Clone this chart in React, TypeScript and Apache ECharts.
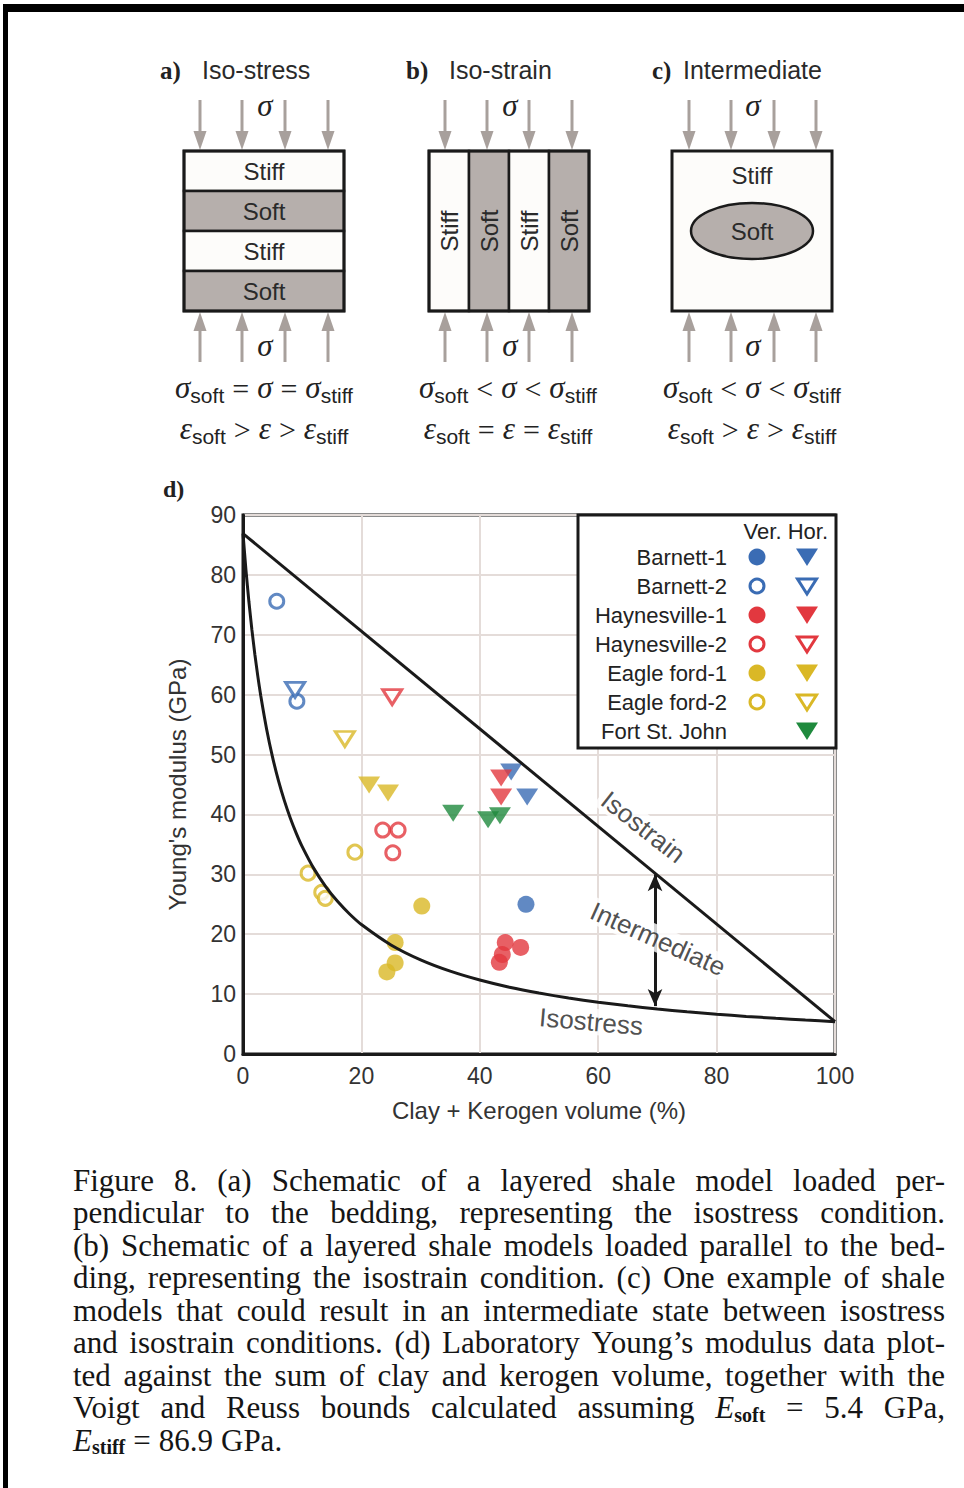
import React, { useEffect, useRef } from 'react';
import * as echarts from 'echarts';

// ---------- data ----------
const X_MIN = 0, X_MAX = 100, X_STEP = 20;
const Y_MIN = 0, Y_MAX = 90, Y_STEP = 10;

const VOIGT = [[0, 86.9], [100, 5.4]];
const REUSS_X = [0, 0.5, 1, 1.5, 2, 2.5, 3, 4, 5, 6, 7, 8, 9, 10, 12, 14, 16, 18, 20, 25, 30, 35, 40, 45, 50, 55, 60, 65, 70, 75, 80, 85, 90, 95, 100];
const REUSS_Y = [86.9, 80.81, 75.51, 70.86, 66.75, 63.1, 59.82, 54.19, 49.53, 45.6, 42.26, 39.37, 36.85, 34.63, 30.91, 27.92, 25.45, 23.38, 21.62, 18.21, 15.72, 13.83, 12.35, 11.15, 10.17, 9.34, 8.64, 8.04, 7.51, 7.05, 6.65, 6.28, 5.96, 5.67, 5.4];

const barnett1Ver = [[47.8, 25.0]];
const barnett1Hor = [[45.3, 47.1], [48.0, 42.9]];
const barnett2Ver = [[5.7, 75.6], [9.1, 58.9]];
const barnett2Hor = [[8.8, 60.8]];
const haynes1Ver = [[44.3, 18.6], [46.9, 17.8], [43.8, 16.6], [43.3, 15.3]];
const haynes1Hor = [[43.6, 46.1], [43.6, 42.9]];
const haynes2Ver = [[23.6, 37.4], [26.2, 37.4], [25.3, 33.6]];
const haynes2Hor = [[25.2, 59.6]];
const eagle1Ver = [[30.2, 24.7], [25.7, 18.6], [25.7, 15.2], [24.3, 13.7]];
const eagle1Hor = [[21.3, 44.9], [24.5, 43.6]];
const eagle2Ver = [[18.9, 33.7], [11.0, 30.2], [13.3, 27.0], [13.9, 26.0]];
const eagle2Hor = [[17.2, 52.6]];
const fortHor = [[35.5, 40.2], [41.4, 39.1], [43.4, 39.8]];

const LEGEND_NAMES = ['Barnett-1', 'Barnett-2', 'Haynesville-1', 'Haynesville-2', 'Eagle ford-1', 'Eagle ford-2', 'Fort St. John'];

const ANNOT = [
  { name: 'Isostrain', value: [67.6, 37.9], rotate: -38 },
  { name: 'Intermediate', value: [70.1, 19.2], rotate: -24 },
  { name: 'Isostress', value: [58.8, 5.4], rotate: -5 },
];
const ARROW_X = 69.6, ARROW_TOP = 30.0, ARROW_BOTTOM = 8.0;

const CAPTION = [
  'Figure 8. (a) Schematic of a layered shale model loaded per-',
  'pendicular to the bedding, representing the isostress condition.',
  '(b) Schematic of a layered shale models loaded parallel to the bed-',
  'ding, representing the isostrain condition. (c) One example of shale',
  'models that could result in an intermediate state between isostress',
  'and isostrain conditions. (d) Laboratory Young\u2019s modulus data plot-',
  'ted against the sum of clay and kerogen volume, together with the',
  'Voigt and Reuss bounds calculated assuming E_soft = 5.4 GPa,',
  'E_stiff = 86.9 GPa.',
];

// ---------- styles ----------
const BLUE = '#3a6cb4';
const RED = '#e2383f';
const YELLOW = '#dab826';
const GREEN = '#1f8a3d';
const GRAY_FILL = '#b6afac';
const ARROW_GRAY = '#a8a09c';
const INK = '#1a1a1a';
const SANS = 'Liberation Sans';
const SERIF = 'Liberation Serif';

let _ctx: CanvasRenderingContext2D | null = null;
function measure(text: string, font: string) {
  if (!_ctx) _ctx = document.createElement('canvas').getContext('2d');
  _ctx!.font = font;
  return _ctx!.measureText(text).width;
}

type Piece = { t: string; size: number; family: string; italic?: boolean; bold?: boolean; dy?: number; pl?: number; pr?: number; color?: string };
const fontStr = (p: Piece) => `${p.italic ? 'italic ' : ''}${p.bold ? 'bold ' : ''}${p.size}px "${p.family}"`;
const pieceW = (p: Piece) => measure(p.t, fontStr(p)) + (p.pl || 0) + (p.pr || 0);

function pieceEl(p: Piece, x: number, y: number, scale = 1): any {
  return {
    type: 'text', x: x + (p.pl || 0) * scale, y: y + (p.dy || 0), scaleX: scale, z: 60,
    style: {
      text: p.t, fontSize: p.size, fontFamily: p.family,
      fontStyle: p.italic ? 'italic' : 'normal', fontWeight: p.bold ? 'bold' : 'normal',
      fill: p.color || '#222', align: 'left', verticalAlign: 'middle',
    },
  };
}

function layoutPieces(pieces: Piece[], x: number, y: number, align: 'left' | 'center', scale = 1) {
  const widths = pieces.map((p) => pieceW(p) * scale);
  const total = widths.reduce((a, b) => a + b, 0);
  let cx = align === 'center' ? x - total / 2 : x;
  const els: any[] = [];
  pieces.forEach((p, i) => { els.push(pieceEl(p, cx, y, scale)); cx += widths[i]; });
  return els;
}

const G = (t: string): Piece => ({ t, size: 31, family: SERIF, italic: true });
const SB = (t: string): Piece => ({ t, size: 21, family: SANS, dy: 8 });
const OP = (t: string): Piece => ({ t, size: 30, family: SERIF, pl: 8, pr: 8, dy: 1 });

function eqRow(a: string, op1: string, op2: string) {
  return [G(a), SB('soft'), OP(op1), G(a), OP(op2), G(a), SB('stiff')];
}

function arrowsEls(xs: number[]) {
  const els: any[] = [];
  xs.forEach((x) => {
    els.push({ type: 'line', shape: { x1: x, y1: 100, x2: x, y2: 134 }, style: { stroke: ARROW_GRAY, lineWidth: 3 }, z: 55 });
    els.push({ type: 'polygon', shape: { points: [[x - 6.5, 131], [x + 6.5, 131], [x, 150]] }, style: { fill: ARROW_GRAY }, z: 55 });
    els.push({ type: 'line', shape: { x1: x, y1: 328, x2: x, y2: 362 }, style: { stroke: ARROW_GRAY, lineWidth: 3 }, z: 55 });
    els.push({ type: 'polygon', shape: { points: [[x - 6.5, 331], [x + 6.5, 331], [x, 312]] }, style: { fill: ARROW_GRAY }, z: 55 });
  });
  return els;
}

const boxText = (x: number, y: number, t: string, rot = 0) => ({
  type: 'text', x, y, rotation: rot, z: 62,
  style: { text: t, fontSize: 24, fontFamily: SANS, fill: '#2a2a2a', align: 'center', verticalAlign: 'middle' },
});

function title(x: number, letter: string, label: string, labelX: number) {
  return [
    { type: 'text', x, y: 70, z: 60, style: { text: letter, fontSize: 25, fontFamily: SERIF, fontWeight: 'bold', fill: '#222', align: 'left', verticalAlign: 'middle' } },
    { type: 'text', x: labelX, y: 70, z: 60, style: { text: label, fontSize: 25, fontFamily: SANS, fill: '#2a2a2a', align: 'left', verticalAlign: 'middle' } },
  ];
}

function schematics() {
  const els: any[] = [];
  // a) iso-stress
  els.push(...title(160, 'a)', 'Iso-stress', 202));
  ['Stiff', 'Soft', 'Stiff', 'Soft'].forEach((t, i) => {
    els.push({ type: 'rect', shape: { x: 184, y: 151 + i * 40, width: 160, height: 40 }, style: { fill: t === 'Soft' ? GRAY_FILL : '#fdfcfa', stroke: INK, lineWidth: 2.5 }, z: 56 });
    els.push(boxText(264, 171 + i * 40, t));
  });
  els.push({ type: 'rect', shape: { x: 184, y: 151, width: 160, height: 160 }, style: { fill: 'none', stroke: INK, lineWidth: 3 }, z: 57 });
  els.push(...arrowsEls([200, 242, 285, 328]));
  els.push(...layoutPieces([G('σ')], 265, 105, 'center'));
  els.push(...layoutPieces([G('σ')], 265, 345, 'center'));
  els.push(...layoutPieces(eqRow('σ', '=', '='), 264, 387, 'center'));
  els.push(...layoutPieces(eqRow('ε', '>', '>'), 264, 428, 'center'));

  // b) iso-strain
  els.push(...title(406, 'b)', 'Iso-strain', 449));
  ['Stiff', 'Soft', 'Stiff', 'Soft'].forEach((t, i) => {
    els.push({ type: 'rect', shape: { x: 429 + i * 40, y: 151, width: 40, height: 160 }, style: { fill: t === 'Soft' ? GRAY_FILL : '#fdfcfa', stroke: INK, lineWidth: 2.5 }, z: 56 });
    els.push(boxText(449 + i * 40, 231, t, Math.PI / 2));
  });
  els.push({ type: 'rect', shape: { x: 429, y: 151, width: 160, height: 160 }, style: { fill: 'none', stroke: INK, lineWidth: 3 }, z: 57 });
  els.push(...arrowsEls([445, 487, 529, 572]));
  els.push(...layoutPieces([G('σ')], 510, 105, 'center'));
  els.push(...layoutPieces([G('σ')], 510, 345, 'center'));
  els.push(...layoutPieces(eqRow('σ', '<', '<'), 508, 387, 'center'));
  els.push(...layoutPieces(eqRow('ε', '=', '='), 508, 428, 'center'));

  // c) intermediate
  els.push(...title(652, 'c)', 'Intermediate', 683));
  els.push({ type: 'rect', shape: { x: 672, y: 151, width: 160, height: 160 }, style: { fill: '#fdfcfa', stroke: INK, lineWidth: 3 }, z: 56 });
  els.push({ type: 'ellipse', shape: { cx: 752, cy: 231, rx: 61, ry: 28 }, style: { fill: GRAY_FILL, stroke: INK, lineWidth: 2.5 }, z: 57 });
  els.push(boxText(752, 175, 'Stiff'));
  els.push(boxText(752, 231, 'Soft'));
  els.push(...arrowsEls([689, 731, 774, 816]));
  els.push(...layoutPieces([G('σ')], 753, 105, 'center'));
  els.push(...layoutPieces([G('σ')], 753, 345, 'center'));
  els.push(...layoutPieces(eqRow('σ', '<', '<'), 752, 387, 'center'));
  els.push(...layoutPieces(eqRow('ε', '>', '>'), 752, 428, 'center'));
  return els;
}

function legendEls() {
  const els: any[] = [];
  els.push({ type: 'rect', shape: { x: 578, y: 515, width: 258, height: 233 }, style: { fill: '#fff', stroke: INK, lineWidth: 3 }, z: 70 });
  els.push({ type: 'text', x: 828, y: 531, z: 71, style: { text: 'Ver. Hor.', fontSize: 22, fontFamily: SANS, fill: '#222', align: 'right', verticalAlign: 'middle' } });
  const colors = [BLUE, BLUE, RED, RED, YELLOW, YELLOW, GREEN];
  LEGEND_NAMES.forEach((n, i) => {
    const y = 557 + i * 29;
    const c = colors[i];
    const open = i % 2 === 1 && i < 6;
    els.push({ type: 'text', x: 727, y, z: 71, style: { text: n, fontSize: 22, fontFamily: SANS, fill: '#222', align: 'right', verticalAlign: 'middle' } });
    if (i < 6) {
      els.push(open
        ? { type: 'circle', shape: { cx: 757, cy: y, r: 7 }, style: { fill: '#fff', stroke: c, lineWidth: 3 }, z: 71 }
        : { type: 'circle', shape: { cx: 757, cy: y, r: 8.5 }, style: { fill: c }, z: 71 });
    }
    els.push(open
      ? { type: 'polygon', shape: { points: [[797.5, y - 7], [816.5, y - 7], [807, y + 8]] }, style: { fill: '#fff', stroke: c, lineWidth: 3 }, z: 71 }
      : { type: 'polygon', shape: { points: [[796, y - 8.5], [818, y - 8.5], [807, y + 9]] }, style: { fill: c }, z: 71 });
  });
  return els;
}

function captionEls() {
  const els: any[] = [];
  const LEFT = 73, W = 872, SIZE = 31, BASE_SCALE = 1.0;
  CAPTION.forEach((line, li) => {
    const y = 1180 + li * 32.5;
    const words: Piece[][] = line.split(' ').map((w) => {
      if (w === 'E_soft' || w === 'E_stiff') {
        return [{ t: 'E', size: SIZE, family: SERIF, italic: true, color: '#151515' }, { t: w.slice(2), size: 20, family: SERIF, bold: true, dy: 7, color: '#151515' }];
      }
      return [{ t: w, size: SIZE, family: SERIF, color: '#151515' }];
    });
    const nat = words.map((ps) => ps.reduce((a, p) => a + pieceW(p), 0));
    const sumNat = nat.reduce((a, b) => a + b, 0);
    const last = li === CAPTION.length - 1;
    let scale = BASE_SCALE;
    let gap: number;
    if (last) {
      gap = 8;
    } else {
      const minGap = 6;
      if (sumNat * scale + minGap * (words.length - 1) > W) scale = (W - minGap * (words.length - 1)) / sumNat;
      gap = (W - sumNat * scale) / (words.length - 1);
    }
    let x = LEFT;
    words.forEach((ps, wi) => {
      els.push(...layoutPieces(ps, x, y, 'left', scale));
      x += nat[wi] * scale + gap;
    });
  });
  return els;
}

function frameEls() {
  return [
    { type: 'rect', shape: { x: 3, y: 4, width: 961, height: 8 }, style: { fill: '#000' }, z: 90 },
    { type: 'rect', shape: { x: 3, y: 4, width: 5, height: 1484 }, style: { fill: '#000' }, z: 90 },
    { type: 'text', x: 163, y: 489, z: 60, style: { text: 'd)', fontSize: 24, fontFamily: SERIF, fontWeight: 'bold', fill: '#222', align: 'left', verticalAlign: 'middle' } },
  ];
}

function scatter(name: string, data: number[][], color: string, kind: 'circle' | 'tri', open: boolean) {
  return {
    name, type: 'scatter', data, z: 2, silent: true,
    symbol: kind === 'circle' ? 'circle' : 'triangle',
    symbolRotate: kind === 'tri' ? 180 : 0,
    symbolSize: kind === 'circle' ? (open ? 14 : 17) : (open ? [19, 15] : [22, 17]),
    itemStyle: open ? { color: '#fff', borderColor: color, borderWidth: 3 } : { color, borderWidth: 0 },
  };
}

export default function App() {
  const ref = useRef<HTMLDivElement>(null);
  useEffect(() => {
    const chart = echarts.init(ref.current!, undefined, { renderer: 'svg' });
    const option: any = {
      animation: false,
      backgroundColor: '#ffffff',
      textStyle: { fontFamily: SANS },
      grid: { left: 243, top: 515, width: 592, height: 539, show: true, borderColor: INK, borderWidth: 3, backgroundColor: 'transparent', containLabel: false },
      xAxis: {
        type: 'value', min: X_MIN, max: X_MAX, interval: X_STEP,
        name: 'Clay + Kerogen volume (%)', nameLocation: 'middle', nameGap: 44,
        nameTextStyle: { fontSize: 24, color: '#333', fontFamily: SANS },
        axisLine: { show: true, onZero: false, lineStyle: { color: INK, width: 3 } },
        axisTick: { show: false },
        axisLabel: { fontSize: 23, color: '#333', margin: 10, fontFamily: SANS },
        splitLine: { show: true, lineStyle: { color: '#e4dcd9', width: 2 } },
      },
      yAxis: {
        type: 'value', min: Y_MIN, max: Y_MAX, interval: Y_STEP,
        name: 'Young\'s modulus (GPa)', nameLocation: 'middle', nameGap: 54,
        nameTextStyle: { fontSize: 24, color: '#333', fontFamily: SANS },
        axisLine: { show: true, onZero: false, lineStyle: { color: INK, width: 3 } },
        axisTick: { show: false },
        axisLabel: { fontSize: 23, color: '#333', margin: 7, fontFamily: SANS },
        splitLine: { show: true, lineStyle: { color: '#e4dcd9', width: 2 } },
      },
      series: [
        scatter('Barnett-1 Ver.', barnett1Ver, BLUE, 'circle', false),
        scatter('Barnett-1 Hor.', barnett1Hor, BLUE, 'tri', false),
        scatter('Barnett-2 Ver.', barnett2Ver, BLUE, 'circle', true),
        scatter('Barnett-2 Hor.', barnett2Hor, BLUE, 'tri', true),
        scatter('Haynesville-1 Ver.', haynes1Ver, RED, 'circle', false),
        scatter('Haynesville-1 Hor.', haynes1Hor, RED, 'tri', false),
        scatter('Haynesville-2 Ver.', haynes2Ver, RED, 'circle', true),
        scatter('Haynesville-2 Hor.', haynes2Hor, RED, 'tri', true),
        scatter('Eagle ford-1 Ver.', eagle1Ver, YELLOW, 'circle', false),
        scatter('Eagle ford-1 Hor.', eagle1Hor, YELLOW, 'tri', false),
        scatter('Eagle ford-2 Ver.', eagle2Ver, YELLOW, 'circle', true),
        scatter('Eagle ford-2 Hor.', eagle2Hor, YELLOW, 'tri', true),
        scatter('Fort St. John Hor.', fortHor, GREEN, 'tri', false),
        {
          name: 'Isostrain (Voigt)', type: 'line', data: VOIGT, showSymbol: false, silent: true, z: 3,
          lineStyle: { color: INK, width: 3 },
          markLine: {
            silent: true, symbol: ['arrow', 'arrow'], symbolSize: [11, 17],
            lineStyle: { color: INK, width: 3, type: 'solid' }, label: { show: false },
            data: [[{ coord: [ARROW_X, ARROW_TOP] }, { coord: [ARROW_X, ARROW_BOTTOM] }]],
          },
        },
        {
          name: 'Isostress (Reuss)', type: 'line', data: REUSS_X.map((x, i) => [x, REUSS_Y[i]]), showSymbol: false, silent: true, z: 3,
          smooth: 0.2, lineStyle: { color: INK, width: 3 },
        },
        {
          name: 'annotations', type: 'scatter', z: 6, silent: true, symbolSize: 1,
          itemStyle: { color: 'rgba(0,0,0,0)' },
          data: ANNOT.map((a) => ({ name: a.name, value: a.value, label: { rotate: a.rotate } })),
          label: { show: true, position: 'inside', formatter: '{b}', fontSize: 26, fontFamily: SANS, color: '#222', backgroundColor: '#fff', padding: [0, 4] },
        },
      ],
      graphic: { elements: [...frameEls(), ...schematics(), ...legendEls(), ...captionEls()] },
    };
    chart.setOption(option);
    return () => chart.dispose();
  }, []);
  return <div ref={ref} style={{ position: 'absolute', left: 0, top: 0, width: 964, height: 1488, background: '#fff' }} />;
}
